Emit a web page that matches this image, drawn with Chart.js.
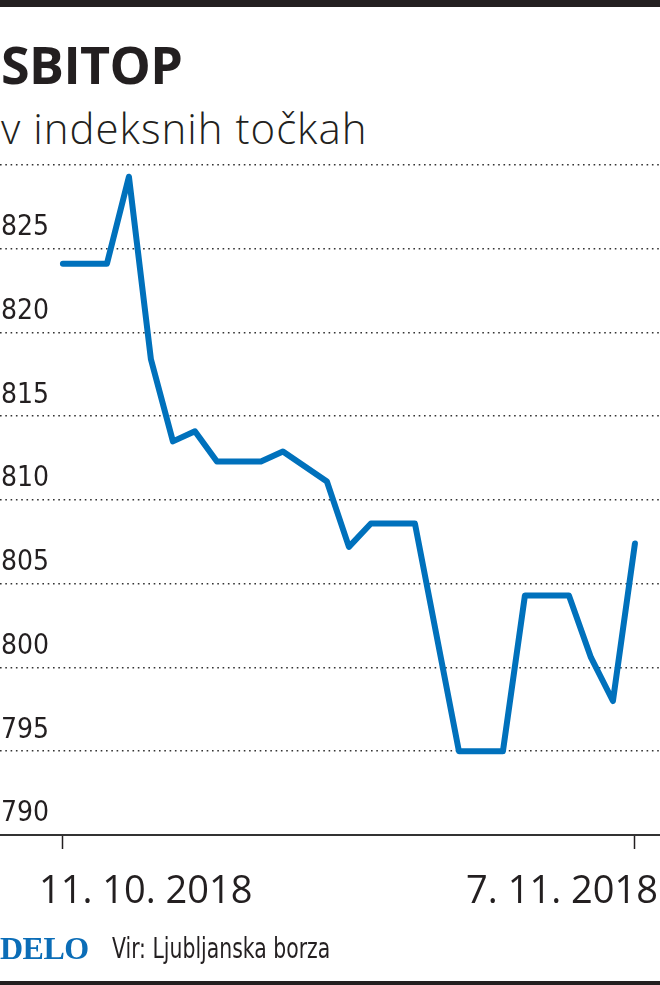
<!DOCTYPE html>
<html>
<head>
<meta charset="utf-8">
<script src="https://cdn.jsdelivr.net/npm/chart.js@4/dist/chart.umd.min.js"></script>
<style>
  html, body { margin: 0; padding: 0; background: #fff; }
  body { width: 660px; height: 985px; position: relative; overflow: hidden; }
  .bar { position: absolute; left: 0; width: 660px; background: #231f20; }
  .txt { position: absolute; white-space: nowrap; line-height: 1; color: #231f20; }
  #title { left: 1px; top: 28px; font: 700 52px "Open Sans", sans-serif; letter-spacing: -0.6px; }
  #subtitle { left: 1px; top: 99px; font: 300 42px "Open Sans", sans-serif; letter-spacing: 1px; }
  #delo { left: 0px; top: 930px; font: 700 32px "Liberation Serif", serif; color: #0b6db7; letter-spacing: -0.5px; }
  #source { left: 112px; top: 932px; font: 400 28px "DejaVu Sans Condensed", sans-serif; transform: scaleX(0.81); transform-origin: 0 0; }
  #wrap { position: absolute; left: 0; top: 0; width: 660px; height: 985px; }
</style>
</head>
<body>
<div class="bar" style="top:0;height:7px"></div>
<div class="txt" id="title">SBITOP</div>
<div class="txt" id="subtitle">v indeksnih točkah</div>
<div id="wrap"><canvas id="c" width="660" height="985"></canvas></div>
<div class="txt" id="delo">DELO</div>
<div class="txt" id="source">Vir: Ljubljanska borza</div>
<div class="bar" style="top:981px;height:4px"></div>
<script>
// Data (trading-session slots along the x axis and SBITOP values)
const slots  = [0, 2, 3, 4, 5, 6, 7, 9, 10, 12, 13, 14, 16, 18, 20, 21, 23, 24, 25, 26];
const values = [824.1, 824.1, 829.3, 818.4, 813.5, 814.1, 812.3, 812.3, 812.9, 811.1,
                807.2, 808.6, 808.6, 795.0, 795.0, 804.3, 804.3, 800.6, 798.0, 807.4];
const dateLabels = ['11. 10. 2018', '7. 11. 2018'];
const yTicks = [790, 795, 800, 805, 810, 815, 820, 825, 830];

const points = slots.map((s, i) => ({ x: s, y: values[i] }));

const dateLabelPlugin = {
  id: 'dateLabelPlugin',
  afterDraw(chart) {
    const { ctx } = chart;
    const x = chart.scales.x;
    const y0 = x.bottom + 54;
    ctx.save();
    ctx.font = '400 38px "Open Sans", sans-serif';
    ctx.fillStyle = '#231f20';
    ctx.textBaseline = 'alphabetic';
    ctx.textAlign = 'left';
    ctx.fillText(dateLabels[0], x.getPixelForValue(slots[0]) - 24, y0);
    ctx.textAlign = 'right';
    ctx.fillText(dateLabels[1], x.getPixelForValue(slots[slots.length - 1]) + 23, y0);
    ctx.restore();
  }
};

new Chart(document.getElementById('c'), {
  type: 'line',
  data: {
    datasets: [{
      data: points,
      borderColor: '#0071bc',
      borderWidth: 6,
      pointRadius: 0,
      tension: 0,
      borderCapStyle: 'round',
      borderJoinStyle: 'round',
      fill: false
    }]
  },
  options: {
    responsive: false,
    animation: false,
    layout: { padding: { top: 165, bottom: 136, left: 0, right: 0 } },
    plugins: { legend: { display: false }, tooltip: { enabled: false } },
    scales: {
      x: {
        type: 'linear',
        min: -2.86,
        max: 27.14,
        afterBuildTicks: (axis) => {
          axis.ticks = [{ value: slots[0] }, { value: slots[slots.length - 1] }];
        },
        ticks: { display: false },
        grid: {
          drawOnChartArea: false,
          drawTicks: true,
          tickLength: 14,
          tickColor: '#231f20',
          tickWidth: 1.5
        },
        border: { display: true, color: '#333', width: 2 }
      },
      y: {
        type: 'linear',
        position: 'left',
        min: 790,
        max: 830,
        afterBuildTicks: (axis) => { axis.ticks = yTicks.map(v => ({ value: v })); },
        afterFit: (axis) => { axis.width = 0; },
        ticks: {
          mirror: true,
          padding: 1,
          labelOffset: -21,
          color: '#231f20',
          font: { family: '"DejaVu Sans Condensed", sans-serif', size: 28 },
          callback: (v) => (v === 830 ? '' : String(v))
        },
        grid: {
          drawTicks: false,
          color: (ctx) => (ctx.tick && ctx.tick.value === 790 ? 'rgba(0,0,0,0)' : '#333'),
          lineWidth: 1.6
        },
        border: { display: false, dash: [1.6, 3.7] }
      }
    }
  },
  plugins: [dateLabelPlugin]
});
</script>
</body>
</html>
